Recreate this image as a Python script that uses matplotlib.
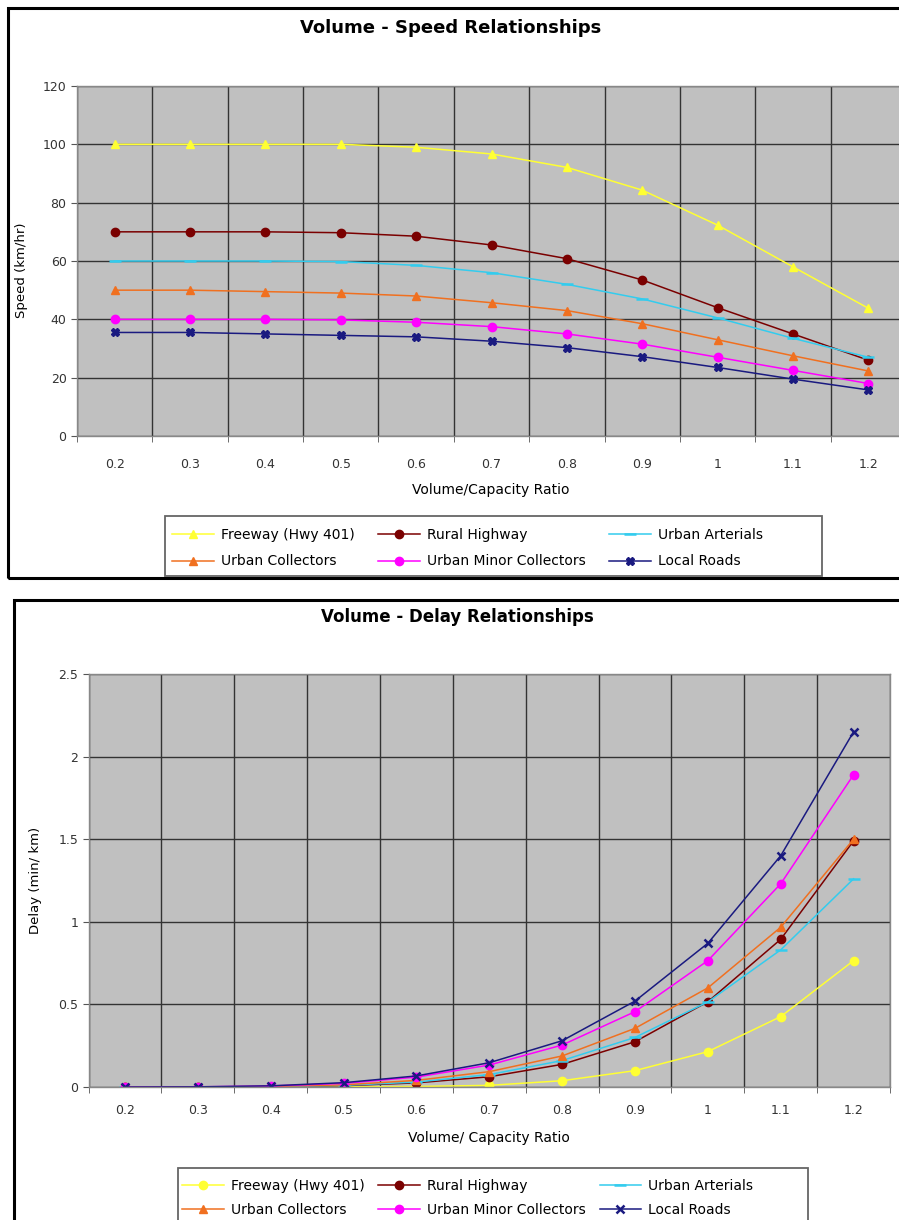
import matplotlib.pyplot as plt
from matplotlib.patches import Rectangle

plt.rcParams['font.family'] = ['DejaVu Sans']

W, H = 899, 1220

ratios = ["0.2", "0.3", "0.4", "0.5", "0.6", "0.7", "0.8", "0.9", "1", "1.1", "1.2"]
names = ["Freeway (Hwy 401)", "Rural Highway", "Urban Arterials",
         "Urban Collectors", "Urban Minor Collectors", "Local Roads"]

# speed (km/hr)
speed_freeway = [100, 100, 100, 100, 99, 96.7, 92.1, 84.3, 72.3, 58, 43.8]
speed_rural = [70, 70, 70, 69.7, 68.5, 65.5, 60.8, 53.5, 44, 35, 26]
speed_arterial = [60, 60, 60, 59.8, 58.5, 56, 52, 47, 40.5, 33.5, 27]
speed_collector = [50, 50, 49.5, 49, 48, 45.7, 43, 38.5, 33, 27.5, 22.3]
speed_minor = [40, 40, 40, 39.8, 39, 37.5, 35, 31.5, 27, 22.5, 18]
speed_local = [35.5, 35.5, 35, 34.5, 34, 32.5, 30.3, 27.2, 23.5, 19.5, 15.8]

# delay (min/km)
delay_freeway = [0, 0, 0, 0.001, 0.003, 0.01, 0.038, 0.099, 0.214, 0.426, 0.765]
delay_rural = [0, 0, 0.002, 0.008, 0.025, 0.062, 0.137, 0.274, 0.516, 0.894, 1.49]
delay_arterial = [0, 0, 0.002, 0.01, 0.03, 0.075, 0.16, 0.3, 0.515, 0.83, 1.26]
delay_collector = [0, 0, 0.003, 0.013, 0.04, 0.093, 0.188, 0.355, 0.6, 0.967, 1.5]
delay_minor = [0, 0.001, 0.006, 0.022, 0.06, 0.133, 0.254, 0.456, 0.765, 1.23, 1.89]
delay_local = [0, 0.001, 0.007, 0.026, 0.067, 0.147, 0.28, 0.52, 0.87, 1.4, 2.15]

colors = ['#ffff33', '#7a0000', '#33ccee', '#f07020', '#ff00ff', '#1a1a80']
speed_markers = ['^', 'o', '_', '^', 'o', 'X']
delay_markers = ['o', 'o', '_', '^', 'o', 'x']


def fx(x):
    return x / W


def fy(y):
    return 1 - y / H


fig = plt.figure(figsize=(W / 100, H / 100), dpi=100)

# outer chart frames
fig.patches.append(Rectangle((fx(8), fy(578)), fx(920), 570 / H, transform=fig.transFigure,
                             fill=False, edgecolor='black', lw=2.2))
fig.patches.append(Rectangle((fx(14), fy(1240)), fx(920), 640 / H, transform=fig.transFigure,
                             fill=False, edgecolor='black', lw=2.2))


def style_axes(ax, pad):
    ax.set_facecolor('#c0c0c0')
    ax.set_xlim(-0.5, len(ratios) - 0.5)
    ax.set_xticks(range(len(ratios)))
    ax.set_xticklabels(ratios)
    ax.set_xticks([i - 0.5 for i in range(len(ratios) + 1)], minor=True)
    ax.tick_params(axis='x', which='major', length=0, pad=pad, labelsize=9, colors='#333333')
    ax.tick_params(axis='x', which='minor', length=4, color='#555555')
    ax.tick_params(axis='y', length=4, color='#555555', labelsize=9, labelcolor='#333333')
    ax.grid(True, axis='x', which='minor', color='#333333', lw=1.0)
    ax.grid(True, axis='y', which='major', color='#333333', lw=1.0)
    ax.grid(False, axis='x', which='major')
    ax.set_axisbelow(True)
    for s in ax.spines.values():
        s.set_color('#888888')
        s.set_linewidth(1.0)


def add_legend(handles, x_left, y_top, spacing, colspace, box):
    order = [0, 3, 1, 4, 2, 5]
    leg = fig.legend([handles[i] for i in order], [names[i] for i in order], ncol=3,
                     loc='upper left', bbox_to_anchor=(fx(x_left), fy(y_top)), fontsize=10,
                     frameon=False, handlelength=3, columnspacing=colspace, handletextpad=0.5,
                     borderpad=0, borderaxespad=0, labelspacing=spacing)
    x0, y0, x1, y1 = box
    fig.patches.append(Rectangle((fx(x0), fy(y1)), fx(x1 - x0), (y1 - y0) / H,
                                 transform=fig.transFigure, fill=False,
                                 edgecolor='#666666', lw=1.3))
    return leg


# ---- top chart: speed
ax1 = fig.add_axes([fx(77), fy(436), fx(906 - 77), 350 / H])
speed = [speed_freeway, speed_rural, speed_arterial, speed_collector, speed_minor, speed_local]
lines1 = []
for vals, c, m, n in zip(speed, colors, speed_markers, names):
    ms = 9 if m == '_' else 6
    ln, = ax1.plot(ratios, vals, color=c, marker=m, ms=ms, mew=1.8 if m == '_' else 1,
                   lw=1.1, label=n)
    lines1.append(ln)
style_axes(ax1, 16)
ax1.set_ylim(0, 120)
ax1.set_yticks(range(0, 121, 20))
fig.text(fx(451), fy(28), "Volume - Speed Relationships", ha='center', va='center',
         fontsize=13, fontweight='bold')
fig.text(fx(491), fy(490), "Volume/Capacity Ratio", ha='center', va='center', fontsize=10)
fig.text(fx(22), fy(270), "Speed (km/hr)", ha='center', va='center', rotation=90, fontsize=9.5)
add_legend(lines1, 172, 528, 0.9, 1.7, (165, 516, 822, 576))

# ---- bottom chart: delay
ax2 = fig.add_axes([fx(88.5), fy(1087), fx(890 - 88.5), 413 / H])
delay = [delay_freeway, delay_rural, delay_arterial, delay_collector, delay_minor, delay_local]
lines2 = []
for vals, c, m, n in zip(delay, colors, delay_markers, names):
    ms = 9 if m == '_' else 6
    ln, = ax2.plot(ratios, vals, color=c, marker=m, ms=ms, mew=1.8 if m in ('_', 'x') else 1,
                   lw=1.1, label=n)
    lines2.append(ln)
style_axes(ax2, 12)
ax2.set_ylim(0, 2.5)
ax2.set_yticks([0, 0.5, 1, 1.5, 2, 2.5])
ax2.set_yticklabels(["0", "0.5", "1", "1.5", "2", "2.5"])
fig.text(fx(457), fy(617), "Volume - Delay Relationships", ha='center', va='center',
         fontsize=12, fontweight='bold')
fig.text(fx(489), fy(1138), "Volume/ Capacity Ratio", ha='center', va='center', fontsize=10)
fig.text(fx(35), fy(880), "Delay (min/ km)", ha='center', va='center', rotation=90, fontsize=9.5)
add_legend(lines2, 182, 1179, 0.7, 1.0, (178, 1168, 808, 1240))

fig.savefig("out.png", dpi=100)
